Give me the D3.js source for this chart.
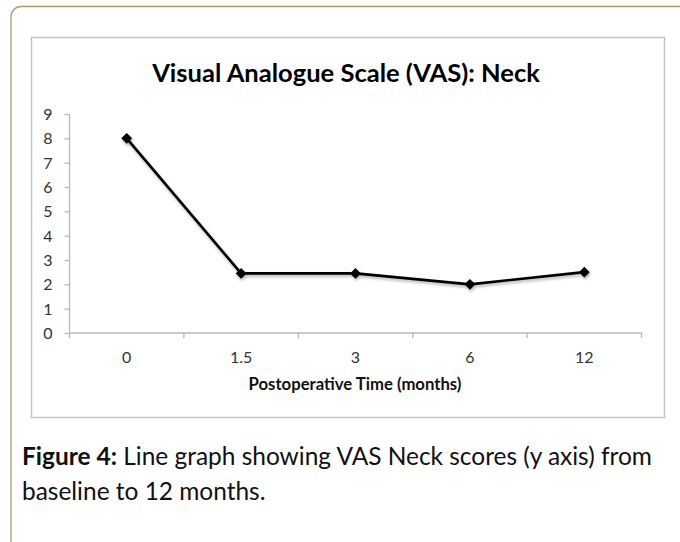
<!DOCTYPE html>
<html><head><meta charset="utf-8">
<script src="https://cdn.jsdelivr.net/npm/d3@7"></script>
<style>html,body{margin:0;padding:0;background:#fff;}svg{display:block;}</style>
</head><body>
<svg id="c" width="680" height="542"></svg>
<script>
const categories = ["0", "1.5", "3", "6", "12"];
const values = [8, 2.45, 2.45, 2.0, 2.5];
const yTicks = [0, 1, 2, 3, 4, 5, 6, 7, 8, 9];
const title = "Visual Analogue Scale (VAS): Neck";
const xTitle = "Postoperative Time (months)";
const captionBold = "Figure 4:";
const captionLine1 = " Line graph showing VAS Neck scores (y axis) from";
const captionLine2 = "baseline to 12 months.";

const FONT = "Lato, 'Open Sans', sans-serif";
const TICKFONT = "Lato, 'Open Sans', sans-serif";
const svg = d3.select("#c");

const defs = svg.append("defs");
const f = defs.append("filter").attr("id","sh").attr("x","-10%").attr("y","-10%").attr("width","120%").attr("height","130%");
f.append("feDropShadow").attr("dx",1).attr("dy",2).attr("stdDeviation",1.5).attr("flood-color","#000").attr("flood-opacity",0.3);

svg.append("rect").attr("x",11).attr("y",6.5).attr("width",720).attr("height",600)
  .attr("rx",10).attr("fill","none").attr("stroke","#a89a6e").attr("stroke-width",1.3);

svg.append("rect").attr("x",31.5).attr("y",37.5).attr("width",633).attr("height",380)
  .attr("fill","#fff").attr("stroke","#c4c4c4").attr("stroke-width",1.5);

function fitText(sel, target){
  const n = sel.node();
  const w = n.getComputedTextLength();
  const fs = parseFloat(sel.attr("font-size"));
  sel.attr("font-size", (fs*target/w).toFixed(2));
}

const t = svg.append("text").attr("x",346).attr("y",81.5).attr("text-anchor","middle")
  .attr("font-family",FONT).attr("font-weight","bold").attr("font-size",24).attr("fill","#000").text(title);
fitText(t, 388);

const x = d3.scaleBand().domain(categories).range([69.5, 641.5]);
const y = d3.scaleLinear().domain([0, 9]).range([333, 114]);

const gx = svg.append("g").attr("transform","translate(0,333)")
  .call(d3.axisBottom(x).tickSize(0).tickPadding(0));
gx.attr("font-size",null).attr("font-family",null);
gx.select(".domain").attr("stroke","#b8b8b8").attr("stroke-width",1.3)
  .attr("d","M69.5,0H641.5");
gx.selectAll(".tick line").remove();
gx.selectAll(".tick text").attr("y",29.5).attr("dy",0)
  .attr("font-family",TICKFONT).attr("font-size",16).attr("fill","#333");
const bounds = categories.map(c => x(c)).concat([x.range()[1]]);
gx.selectAll(".bt").data(bounds).enter().append("line").attr("class","bt")
  .attr("x1",d=>d).attr("x2",d=>d).attr("y1",0).attr("y2",5).attr("stroke","#b8b8b8").attr("stroke-width",1.3);

const gy = svg.append("g").attr("transform","translate(69.5,0)")
  .call(d3.axisLeft(y).tickValues(yTicks).tickSize(5).tickPadding(12).tickFormat(d3.format("d")));
gy.attr("font-size",null).attr("font-family",null);
gy.select(".domain").attr("stroke","#b8b8b8").attr("stroke-width",1.3).attr("d","M0,114V333");
gy.selectAll(".tick line").attr("stroke","#b8b8b8").attr("stroke-width",1.3);
gy.selectAll(".tick text").attr("font-family",TICKFONT).attr("font-size",16).attr("fill","#333").attr("dy","0.35em");

const xt = svg.append("text").attr("x",355).attr("y",390).attr("text-anchor","middle")
  .attr("font-family",FONT).attr("font-weight","bold").attr("font-size",13).attr("fill","#111").text(xTitle);
fitText(xt, 213);

const cx = d => x(d) + x.bandwidth()/2;
const data = categories.map((c,i)=>({c, v: values[i]}));
const g = svg.append("g").attr("filter","url(#sh)");
g.append("path").datum(data)
  .attr("d", d3.line().x(d=>cx(d.c)).y(d=>y(d.v)))
  .attr("fill","none").attr("stroke","#000").attr("stroke-width",2.6).attr("stroke-linejoin","round");
g.selectAll(".m").data(data).enter().append("path")
  .attr("transform", d=>`translate(${cx(d.c)},${y(d.v)})`)
  .attr("d", d3.symbol(d3.symbolDiamond2, 75)).attr("fill","#000");

const c1 = svg.append("text").attr("x",22).attr("y",465).attr("font-family",FONT).attr("font-size",21).attr("fill","#111");
c1.append("tspan").attr("font-weight","bold").text(captionBold);
c1.append("tspan").text(captionLine1);
fitText(c1, 630);
const fs1 = c1.attr("font-size");
svg.append("text").attr("x",22).attr("y",500).attr("font-family",FONT).attr("font-size",fs1).attr("fill","#111").text(captionLine2);
</script>
</body></html>
